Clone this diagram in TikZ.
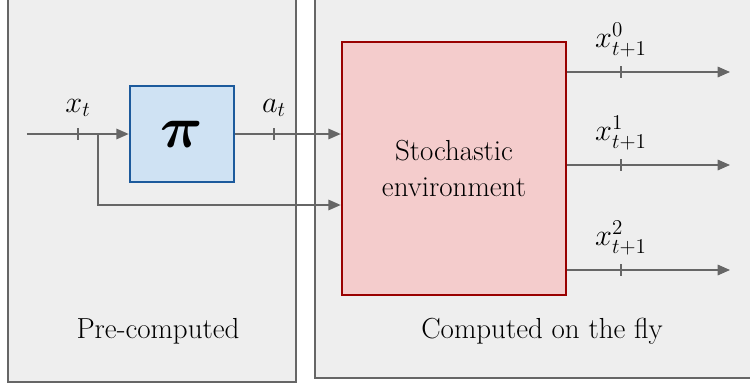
\documentclass[tikz,border=0pt]{standalone}
\usepackage{amsmath,bm,graphicx}
\usetikzlibrary{arrows.meta}
\definecolor{panelgray}{HTML}{EEEEEE}
\definecolor{linegray}{HTML}{666666}
\definecolor{piblue}{HTML}{CFE2F3}
\definecolor{piborder}{HTML}{1C5A9C}
\definecolor{envred}{HTML}{F4CCCC}
\definecolor{envborder}{HTML}{990000}
\tikzset{
  panel/.style={draw=linegray, fill=panelgray, line width=0.6pt},
  flow/.style={draw=linegray, line width=0.8pt, -{Triangle[length=7pt,width=6pt]}},
  tick/.style={draw=linegray, line width=0.6pt},
}
\begin{document}
\begin{tikzpicture}[font=\fontsize{16.5}{20}\selectfont]
    \useasboundingbox (0,0) rectangle (15,-7.7);
    \fill[white] (0,0) rectangle (15,-7.7);
    % panels
    \draw[panel] (0.16,0.2) rectangle (5.92,-7.64);
    \draw[panel] (6.3,0.2) rectangle (15.2,-7.56);
    \node (pre) at (3.16,-6.62) {Pre-computed};
    \node (fly) at (10.84,-6.62) {Computed on the fly};
    % boxes
    \node[draw=piborder, fill=piblue, line width=1.5pt, minimum width=2.08cm, minimum height=1.92cm] (P) at (3.64,-2.68) {\fontsize{24.88}{30}\selectfont\scalebox{1.35}{$\bm{\pi}$}};
    \node[draw=envborder, fill=envred, line width=1.5pt, minimum width=4.48cm, minimum height=5.06cm, align=center] (E) at (9.08,-3.37) {Stochastic\\environment};
    % inputs
    \coordinate (in) at (0.54,-2.68);
    \coordinate (split) at (1.96,-2.68);
    \draw[flow] (in) -- (P.west);
    \draw[flow] (split) |- (E.west |- 0,-4.1);
    \draw[flow] (P.east) -- (E.west |- P.east);
    \draw[tick] (1.56,-2.56) -- (1.56,-2.8);
    \node (xt) at (1.56,-2.16) {$x_t$};
    \draw[tick] (5.48,-2.56) -- (5.48,-2.8);
    \node (at) at (5.48,-2.16) {$a_t$};
    % outputs
    \foreach \i/\y in {0/-1.44, 1/-3.3, 2/-5.4} {
        \coordinate (o\i) at (14.6,\y);
        \draw[flow] (E.east |- o\i) -- (o\i);
        \draw[tick] (12.42,\y+0.12) -- (12.42,\y-0.12);
        \node (x\i) at (12.42,\y+0.64) {$x_{t+1}^{\i}$};
    }
\end{tikzpicture}
\end{document}
